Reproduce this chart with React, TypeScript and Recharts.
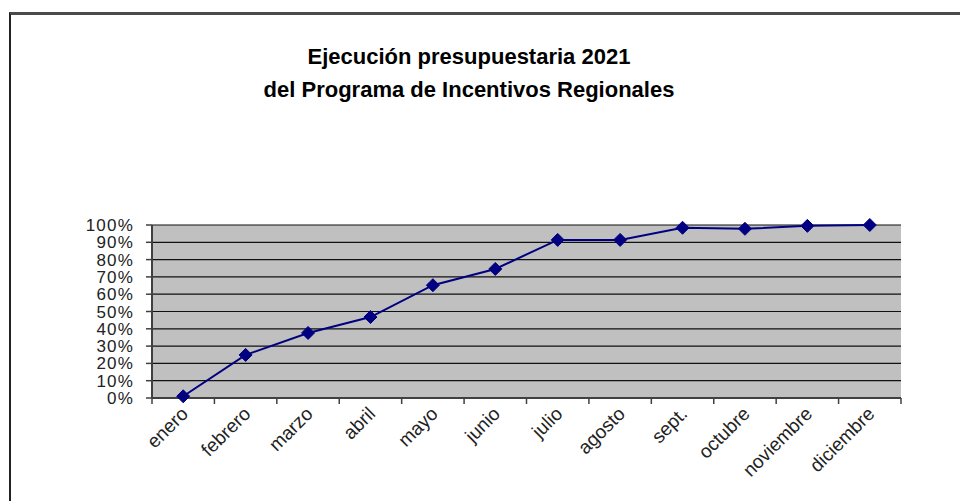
import { LineChart, Line, XAxis, YAxis, CartesianGrid } from 'recharts';

// Monthly cumulative budget execution (% of annual budget)
const months = [
  'enero', 'febrero', 'marzo', 'abril', 'mayo', 'junio',
  'julio', 'agosto', 'sept.', 'octubre', 'noviembre', 'diciembre',
];
const execution = [1, 24.9, 37.6, 46.8, 65.2, 74.6, 91.4, 91.4, 98.4, 97.8, 99.5, 100];
const yTicks = [0, 10, 20, 30, 40, 50, 60, 70, 80, 90, 100];
const titleLines = ['Ejecución presupuestaria 2021', 'del Programa de Incentivos Regionales'];

const data = months.map((m, i) => ({ month: m, value: execution[i] }));

const W = 960;
const H = 501;
const MARGIN = { top: 225, right: 59, left: 92, bottom: 0 };
const Y_AXIS_W = 60;
const PLOT_W = W - MARGIN.left - MARGIN.right - Y_AXIS_W;
const BAND = PLOT_W / months.length;
const FONT = '"Liberation Sans", Arial, sans-serif';

function Diamond(props: any) {
  const { cx, cy } = props;
  if (cx == null || cy == null) return null;
  const r = 6.5;
  return (
    <polygon
      points={`${cx},${cy - r} ${cx + r},${cy} ${cx},${cy + r} ${cx - r},${cy}`}
      fill="#000080"
      stroke="#000080"
      strokeWidth={1}
    />
  );
}

function MonthTick(props: any) {
  const { x, y, payload, index } = props;
  const axisY = y - 8;
  const left = x - BAND / 2;
  const isLast = index === months.length - 1;
  return (
    <g>
      <line x1={left} y1={axisY} x2={left} y2={axisY + 6} stroke="#404040" strokeWidth={1.5} />
      {isLast && (
        <line x1={x + BAND / 2} y1={axisY} x2={x + BAND / 2} y2={axisY + 6} stroke="#404040" strokeWidth={1.5} />
      )}
      <g transform={`translate(${x + 6},${axisY + 17}) rotate(-45)`}>
        <text x={0} y={0} textAnchor="end" fontSize={19} fontFamily={FONT} fill="#222">
          {payload.value}
        </text>
      </g>
    </g>
  );
}

export default function App() {
  return (
    <div style={{ position: 'absolute', left: 0, top: 0, width: W, height: H, background: '#fff', overflow: 'hidden' }}>
      {/* outer frame: only top and left edges visible in the crop */}
      <div
        style={{
          position: 'absolute',
          left: 9,
          top: 12,
          width: W - 9,
          height: H - 12,
          boxSizing: 'border-box',
          borderTop: '3px solid #4a4a4a',
          borderLeft: '2px solid #222',
        }}
      />
      <div
        style={{
          position: 'absolute',
          left: 0,
          top: 40,
          width: 938,
          textAlign: 'center',
          fontFamily: FONT,
          fontWeight: 'bold',
          fontSize: 22,
          lineHeight: '33px',
          color: '#000',
        }}
      >
        {titleLines.map((t) => (
          <div key={t}>{t}</div>
        ))}
      </div>
      <LineChart width={W} height={H} data={data} margin={MARGIN} style={{ position: 'absolute', left: 0, top: 0 }}>
        <CartesianGrid vertical={false} fill="#C0C0C0" stroke="#111" strokeWidth={1.2} />
        <XAxis
          dataKey="month"
          scale="band"
          height={H - 398}
          interval={0}
          tickLine={false}
          tickSize={6}
          tickMargin={2}
          axisLine={{ stroke: '#404040', strokeWidth: 2 }}
          tick={<MonthTick />}
        />
        <XAxis xAxisId="top" orientation="top" dataKey="month" scale="band" height={0} tick={false} tickLine={false} axisLine={{ stroke: '#808080', strokeWidth: 2 }} />
        <YAxis
          domain={[0, 100]}
          ticks={yTicks}
          interval={0}
          width={Y_AXIS_W}
          tickSize={6}
          tickMargin={12}
          tickFormatter={(v: number) => `${v}%`}
          tick={{ fontSize: 17, fontFamily: FONT, fill: '#222', letterSpacing: 1.2 }}
          tickLine={{ stroke: '#404040', strokeWidth: 1.5 }}
          axisLine={{ stroke: '#404040', strokeWidth: 2 }}
        />
        <YAxis yAxisId="right" orientation="right" width={0} tick={false} tickLine={false} axisLine={{ stroke: '#808080', strokeWidth: 2 }} />
        <Line
          type="linear"
          dataKey="value"
          stroke="#000080"
          strokeWidth={2}
          dot={<Diamond />}
          activeDot={false}
          isAnimationActive={false}
        />
      </LineChart>
    </div>
  );
}
